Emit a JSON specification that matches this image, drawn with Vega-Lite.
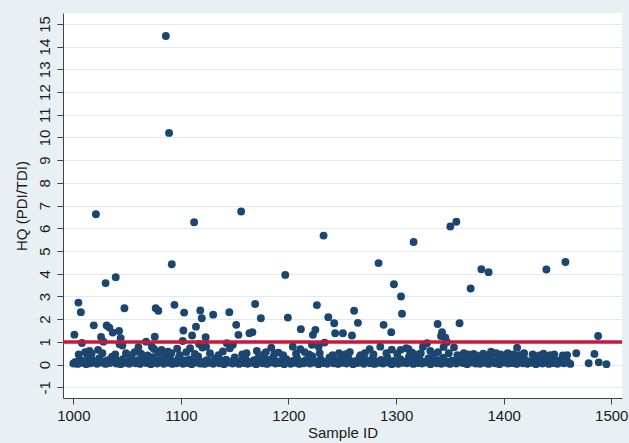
{
  "$schema": "https://vega.github.io/schema/vega-lite/v6.json",
  "autosize": {"type": "none"},
  "width": 559,
  "height": 385,
  "padding": {"left": 63, "top": 13, "right": 7, "bottom": 45},
  "background": "#e9f0f3",
  "config": {
    "view": {"stroke": null, "fill": "white"},
    "axis": {
      "labelFont": "Liberation Sans",
      "titleFont": "Liberation Sans",
      "labelFontSize": 15,
      "titleFontSize": 15,
      "titleFontWeight": "normal",
      "labelColor": "#1a1a1a",
      "titleColor": "#1a1a1a",
      "domainColor": "#444444",
      "tickColor": "#444444",
      "tickSize": 6,
      "labelPadding": 4,
      "labelOverlap": false,
      "labelFlush": false
    }
  },
  "layer": [
    {
      "data": {"values": [
        {"id":1000,"hq":0.05},{"id":1002,"hq":0.12},{"id":1004,"hq":0.03},{"id":1006,"hq":0.22},{"id":1008,"hq":0.08},{"id":1010,"hq":0.15},{"id":1012,"hq":0.02},{"id":1014,"hq":0.31},{"id":1016,"hq":0.06},{"id":1018,"hq":0.18},
        {"id":1020,"hq":0.1},{"id":1022,"hq":0.04},{"id":1024,"hq":0.27},{"id":1026,"hq":0.09},{"id":1028,"hq":0.14},{"id":1030,"hq":0.03},{"id":1032,"hq":0.2},{"id":1034,"hq":0.07},{"id":1036,"hq":0.35},{"id":1038,"hq":0.11},
        {"id":1040,"hq":0.05},{"id":1042,"hq":0.16},{"id":1044,"hq":0.02},{"id":1046,"hq":0.24},{"id":1048,"hq":0.08},{"id":1050,"hq":0.13},{"id":1052,"hq":0.04},{"id":1054,"hq":0.38},{"id":1056,"hq":0.1},{"id":1058,"hq":0.06},
        {"id":1060,"hq":0.19},{"id":1062,"hq":0.03},{"id":1064,"hq":0.28},{"id":1066,"hq":0.12},{"id":1068,"hq":0.07},{"id":1070,"hq":0.15},{"id":1072,"hq":0.02},{"id":1074,"hq":0.33},{"id":1076,"hq":0.09},{"id":1078,"hq":0.05},
        {"id":1080,"hq":0.21},{"id":1082,"hq":0.11},{"id":1084,"hq":0.04},{"id":1086,"hq":0.17},{"id":1088,"hq":0.08},{"id":1090,"hq":0.26},{"id":1092,"hq":0.03},{"id":1094,"hq":0.13},{"id":1096,"hq":0.06},{"id":1098,"hq":0.3},
        {"id":1100,"hq":0.1},{"id":1102,"hq":0.04},{"id":1104,"hq":0.18},{"id":1106,"hq":0.07},{"id":1108,"hq":0.23},{"id":1110,"hq":0.02},{"id":1112,"hq":0.14},{"id":1114,"hq":0.09},{"id":1116,"hq":0.36},{"id":1118,"hq":0.05},
        {"id":1120,"hq":0.12},{"id":1122,"hq":0.03},{"id":1124,"hq":0.2},{"id":1126,"hq":0.08},{"id":1128,"hq":0.15},{"id":1130,"hq":0.04},{"id":1132,"hq":0.27},{"id":1134,"hq":0.1},{"id":1136,"hq":0.06},{"id":1138,"hq":0.17},
        {"id":1140,"hq":0.02},{"id":1142,"hq":0.22},{"id":1144,"hq":0.09},{"id":1146,"hq":0.13},{"id":1148,"hq":0.05},{"id":1150,"hq":0.32},{"id":1152,"hq":0.11},{"id":1154,"hq":0.03},{"id":1156,"hq":0.16},{"id":1158,"hq":0.07},
        {"id":1160,"hq":0.25},{"id":1162,"hq":0.04},{"id":1164,"hq":0.12},{"id":1166,"hq":0.08},{"id":1168,"hq":0.19},{"id":1170,"hq":0.02},{"id":1172,"hq":0.29},{"id":1174,"hq":0.1},{"id":1176,"hq":0.06},{"id":1178,"hq":0.14},
        {"id":1180,"hq":0.03},{"id":1182,"hq":0.21},{"id":1184,"hq":0.09},{"id":1186,"hq":0.34},{"id":1188,"hq":0.05},{"id":1190,"hq":0.13},{"id":1192,"hq":0.07},{"id":1194,"hq":0.18},{"id":1196,"hq":0.02},{"id":1198,"hq":0.24},
        {"id":1200,"hq":0.11},{"id":1202,"hq":0.04},{"id":1204,"hq":0.16},{"id":1206,"hq":0.08},{"id":1208,"hq":0.28},{"id":1210,"hq":0.03},{"id":1212,"hq":0.12},{"id":1214,"hq":0.06},{"id":1216,"hq":0.2},{"id":1218,"hq":0.1},
        {"id":1220,"hq":0.05},{"id":1222,"hq":0.37},{"id":1224,"hq":0.09},{"id":1226,"hq":0.14},{"id":1228,"hq":0.02},{"id":1230,"hq":0.23},{"id":1232,"hq":0.07},{"id":1234,"hq":0.12},{"id":1236,"hq":0.04},{"id":1238,"hq":0.3},
        {"id":1240,"hq":0.1},{"id":1242,"hq":0.06},{"id":1244,"hq":0.17},{"id":1246,"hq":0.03},{"id":1248,"hq":0.22},{"id":1250,"hq":0.08},{"id":1252,"hq":0.13},{"id":1254,"hq":0.05},{"id":1256,"hq":0.26},{"id":1258,"hq":0.11},
        {"id":1260,"hq":0.02},{"id":1262,"hq":0.15},{"id":1264,"hq":0.07},{"id":1266,"hq":0.33},{"id":1268,"hq":0.09},{"id":1270,"hq":0.04},{"id":1272,"hq":0.19},{"id":1274,"hq":0.12},{"id":1276,"hq":0.06},{"id":1278,"hq":0.25},
        {"id":1280,"hq":0.03},{"id":1282,"hq":0.14},{"id":1284,"hq":0.08},{"id":1286,"hq":0.21},{"id":1288,"hq":0.05},{"id":1290,"hq":0.11},{"id":1292,"hq":0.29},{"id":1294,"hq":0.07},{"id":1296,"hq":0.02},{"id":1298,"hq":0.16},
        {"id":1300,"hq":0.1},{"id":1302,"hq":0.04},{"id":1304,"hq":0.24},{"id":1306,"hq":0.08},{"id":1308,"hq":0.13},{"id":1310,"hq":0.06},{"id":1312,"hq":0.35},{"id":1314,"hq":0.11},{"id":1316,"hq":0.03},{"id":1318,"hq":0.18},
        {"id":1320,"hq":0.07},{"id":1322,"hq":0.22},{"id":1324,"hq":0.05},{"id":1326,"hq":0.12},{"id":1328,"hq":0.09},{"id":1330,"hq":0.27},{"id":1332,"hq":0.02},{"id":1334,"hq":0.15},{"id":1336,"hq":0.1},{"id":1338,"hq":0.06},
        {"id":1340,"hq":0.2},{"id":1342,"hq":0.04},{"id":1344,"hq":0.31},{"id":1346,"hq":0.08},{"id":1348,"hq":0.13},{"id":1350,"hq":0.03},{"id":1352,"hq":0.17},{"id":1354,"hq":0.1},{"id":1356,"hq":0.05},{"id":1358,"hq":0.24},
        {"id":1360,"hq":0.12},{"id":1362,"hq":0.07},{"id":1364,"hq":0.19},{"id":1366,"hq":0.02},{"id":1368,"hq":0.14},{"id":1370,"hq":0.09},{"id":1372,"hq":0.28},{"id":1374,"hq":0.05},{"id":1376,"hq":0.11},{"id":1378,"hq":0.04},
        {"id":1380,"hq":0.21},{"id":1382,"hq":0.08},{"id":1384,"hq":0.15},{"id":1386,"hq":0.03},{"id":1388,"hq":0.34},{"id":1390,"hq":0.1},{"id":1392,"hq":0.06},{"id":1394,"hq":0.17},{"id":1396,"hq":0.02},{"id":1398,"hq":0.23},
        {"id":1400,"hq":0.09},{"id":1402,"hq":0.12},{"id":1404,"hq":0.05},{"id":1406,"hq":0.26},{"id":1408,"hq":0.07},{"id":1410,"hq":0.14},{"id":1412,"hq":0.03},{"id":1414,"hq":0.19},{"id":1416,"hq":0.1},{"id":1418,"hq":0.06},
        {"id":1420,"hq":0.22},{"id":1422,"hq":0.04},{"id":1424,"hq":0.13},{"id":1426,"hq":0.08},{"id":1428,"hq":0.3},{"id":1430,"hq":0.02},{"id":1432,"hq":0.16},{"id":1434,"hq":0.09},{"id":1436,"hq":0.05},{"id":1438,"hq":0.2},
        {"id":1440,"hq":0.11},{"id":1442,"hq":0.03},{"id":1444,"hq":0.25},{"id":1446,"hq":0.07},{"id":1448,"hq":0.14},{"id":1450,"hq":0.04},{"id":1452,"hq":0.18},{"id":1454,"hq":0.09},{"id":1456,"hq":0.06},{"id":1458,"hq":0.27},
        {"id":1460,"hq":0.1},{"id":1462,"hq":0.03},
        {"id":1005,"hq":0.45},{"id":1011,"hq":0.55},{"id":1013,"hq":0.42},{"id":1015,"hq":0.6},{"id":1017,"hq":0.48},{"id":1027,"hq":0.5},{"id":1039,"hq":0.45},{"id":1049,"hq":0.5},{"id":1053,"hq":0.42},{"id":1057,"hq":0.55},
        {"id":1063,"hq":0.48},{"id":1069,"hq":0.4},{"id":1079,"hq":0.52},{"id":1085,"hq":0.45},{"id":1091,"hq":0.5},{"id":1099,"hq":0.42},{"id":1105,"hq":0.55},{"id":1113,"hq":0.47},{"id":1127,"hq":0.5},{"id":1135,"hq":0.42},
        {"id":1139,"hq":0.58},{"id":1157,"hq":0.45},{"id":1161,"hq":0.5},{"id":1177,"hq":0.44},{"id":1179,"hq":0.55},{"id":1187,"hq":0.5},{"id":1195,"hq":0.42},{"id":1207,"hq":0.48},{"id":1215,"hq":0.55},{"id":1219,"hq":0.45},
        {"id":1229,"hq":0.5},{"id":1241,"hq":0.42},{"id":1247,"hq":0.5},{"id":1253,"hq":0.46},{"id":1257,"hq":0.55},{"id":1267,"hq":0.42},{"id":1271,"hq":0.5},{"id":1279,"hq":0.45},{"id":1291,"hq":0.5},{"id":1301,"hq":0.47},
        {"id":1315,"hq":0.52},{"id":1319,"hq":0.44},{"id":1323,"hq":0.5},{"id":1335,"hq":0.45},{"id":1339,"hq":0.55},{"id":1349,"hq":0.5},{"id":1357,"hq":0.42},{"id":1363,"hq":0.5},{"id":1367,"hq":0.45},{"id":1375,"hq":0.4},
        {"id":1381,"hq":0.48},{"id":1385,"hq":0.42},{"id":1393,"hq":0.5},{"id":1397,"hq":0.45},{"id":1401,"hq":0.4},{"id":1409,"hq":0.45},{"id":1415,"hq":0.42},{"id":1419,"hq":0.5},{"id":1427,"hq":0.45},{"id":1433,"hq":0.4},
        {"id":1437,"hq":0.48},{"id":1443,"hq":0.42},{"id":1447,"hq":0.45},{"id":1455,"hq":0.4},{"id":1459,"hq":0.42},
        {"id":1001,"hq":1.32},{"id":1004.7,"hq":2.73},{"id":1007,"hq":2.31},{"id":1008,"hq":0.95},{"id":1019,"hq":1.73},{"id":1021,"hq":6.62},{"id":1023,"hq":0.65},{"id":1025.8,"hq":1.22},{"id":1028,"hq":1.01},{"id":1030,"hq":3.59},
        {"id":1031,"hq":1.72},{"id":1033.5,"hq":1.63},{"id":1036.6,"hq":1.41},{"id":1039.4,"hq":3.85},{"id":1042.5,"hq":1.48},{"id":1043,"hq":0.9},{"id":1044,"hq":1.16},{"id":1045.6,"hq":0.84},{"id":1047.5,"hq":2.48},{"id":1060.5,"hq":0.77},
        {"id":1067.6,"hq":1.01},{"id":1073,"hq":0.79},{"id":1075,"hq":0.69},{"id":1075.7,"hq":1.23},{"id":1076.6,"hq":2.48},{"id":1079,"hq":2.37},{"id":1082,"hq":0.65},{"id":1086,"hq":14.47},{"id":1088,"hq":0.57},{"id":1089,"hq":10.2},
        {"id":1091.5,"hq":4.42},{"id":1094,"hq":2.63},{"id":1096.5,"hq":0.7},{"id":1101.7,"hq":1.04},{"id":1102.3,"hq":1.5},{"id":1103,"hq":2.29},{"id":1108.5,"hq":0.72},{"id":1110.4,"hq":1.28},{"id":1112.3,"hq":6.27},{"id":1114,"hq":1.67},
        {"id":1117,"hq":0.91},{"id":1118,"hq":2.38},{"id":1119.4,"hq":2.04},{"id":1120,"hq":0.75},{"id":1123,"hq":1.21},{"id":1123.4,"hq":0.79},{"id":1130,"hq":2.2},{"id":1142.7,"hq":0.94},{"id":1145,"hq":2.31},{"id":1145.5,"hq":0.72},
        {"id":1148.3,"hq":0.87},{"id":1151.4,"hq":1.75},{"id":1153.5,"hq":1.31},{"id":1156,"hq":6.74},{"id":1163.7,"hq":1.38},{"id":1166.5,"hq":1.43},{"id":1169,"hq":2.67},{"id":1170.6,"hq":0.6},{"id":1174.3,"hq":2.04},{"id":1184,"hq":0.75},
        {"id":1190.7,"hq":0.53},{"id":1197,"hq":3.95},{"id":1199.4,"hq":2.07},{"id":1204,"hq":0.79},{"id":1211,"hq":0.68},{"id":1211.5,"hq":1.56},{"id":1221.8,"hq":0.87},{"id":1222.7,"hq":1.31},{"id":1225,"hq":1.53},{"id":1226.4,"hq":2.62},
        {"id":1228,"hq":0.79},{"id":1232.6,"hq":5.68},{"id":1233.5,"hq":0.97},{"id":1237,"hq":2.09},{"id":1242.5,"hq":1.82},{"id":1243.4,"hq":1.38},{"id":1250.6,"hq":1.38},{"id":1259,"hq":1.28},{"id":1261,"hq":2.37},{"id":1264.5,"hq":1.84},
        {"id":1275.4,"hq":0.68},{"id":1283.7,"hq":4.47},{"id":1285.3,"hq":0.79},{"id":1288.4,"hq":1.75},{"id":1295.5,"hq":1.43},{"id":1296,"hq":0.66},{"id":1298,"hq":3.54},{"id":1304.3,"hq":0.65},{"id":1304.6,"hq":3.0},{"id":1305.5,"hq":2.24},
        {"id":1309.5,"hq":0.72},{"id":1311.6,"hq":0.68},{"id":1316.3,"hq":5.4},{"id":1325,"hq":0.79},{"id":1328.8,"hq":0.94},{"id":1331.8,"hq":0.6},{"id":1338.6,"hq":1.79},{"id":1341.8,"hq":1.26},{"id":1342.7,"hq":1.43},{"id":1344.2,"hq":0.78},
        {"id":1345.8,"hq":1.18},{"id":1347.4,"hq":0.99},{"id":1350.4,"hq":6.08},{"id":1353.8,"hq":0.76},{"id":1356,"hq":6.29},{"id":1359,"hq":1.82},{"id":1369.3,"hq":3.35},{"id":1372,"hq":0.47},{"id":1379.3,"hq":4.2},{"id":1386,"hq":4.07},
        {"id":1388.3,"hq":0.57},{"id":1403.7,"hq":0.5},{"id":1412.5,"hq":0.74},{"id":1439.7,"hq":4.19},{"id":1457.4,"hq":4.52},{"id":1467.5,"hq":0.5},{"id":1479,"hq":0.06},{"id":1484.4,"hq":0.47},{"id":1487.8,"hq":1.26},{"id":1488.4,"hq":0.1},
        {"id":1495.5,"hq":0.02}
      ]},
      "mark": {"type": "point", "filled": true, "shape": "circle", "size": 62, "color": "#1b4670", "opacity": 1},
      "encoding": {
        "x": {
          "field": "id", "type": "quantitative",
          "scale": {"domain": [990.4, 1510], "nice": false, "zero": false},
          "axis": {"values": [1000, 1100, 1200, 1300, 1400, 1500], "format": "d", "title": "Sample ID", "titleFontSize": 15, "grid": false, "labelPadding": 4, "titlePadding": 2, "labelOverlap": false}
        },
        "y": {
          "field": "hq", "type": "quantitative",
          "scale": {"domain": [-1.47, 15.48], "nice": false},
          "axis": {
            "values": [-1, 0, 1, 2, 3, 4, 5, 6, 7, 8, 9, 10, 11, 12, 13, 14, 15],
            "labelExpr": "datum.value < 0 ? '-' + abs(datum.value) : '' + datum.value",
            "title": "HQ (PDI/TDI)",
            "labelAngle": -90, "labelAlign": "center", "labelBaseline": "bottom",
            "labelOverlap": false, "labelBound": false,
            "grid": true, "gridColor": "#e3eaee", "gridWidth": 1.2,
            "labelPadding": 5, "titlePadding": 8
          }
        }
      }
    },
    {
      "data": {"values": [{"ref": 1}]},
      "mark": {"type": "rule", "color": "#c8173a", "strokeWidth": 3.5},
      "encoding": {
        "y": {
          "field": "ref", "type": "quantitative",
          "scale": {"domain": [-1.47, 15.48], "nice": false},
          "axis": {
            "values": [-1, 0, 1, 2, 3, 4, 5, 6, 7, 8, 9, 10, 11, 12, 13, 14, 15],
            "labelExpr": "datum.value < 0 ? '-' + abs(datum.value) : '' + datum.value",
            "title": "HQ (PDI/TDI)",
            "labelAngle": -90, "labelAlign": "center", "labelBaseline": "bottom",
            "labelOverlap": false, "labelBound": false,
            "grid": true, "gridColor": "#e3eaee", "gridWidth": 1.2,
            "labelPadding": 5, "titlePadding": 8
          }
        }
      }
    }
  ]
}
